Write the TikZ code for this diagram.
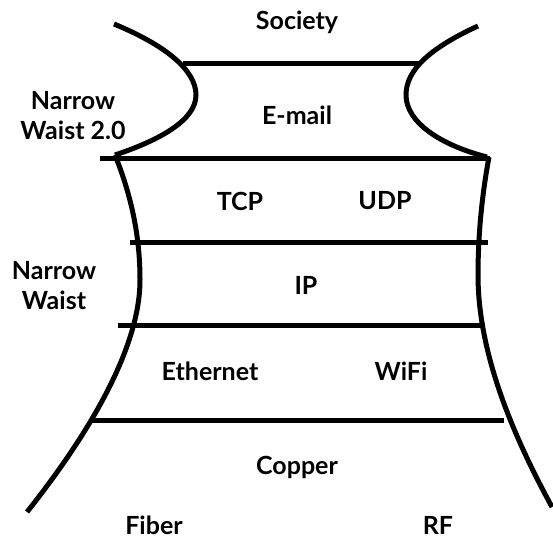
\documentclass[tikz,border=0pt]{standalone}
\usepackage{fontspec}
\setmainfont{Lato}[BoldFont={Lato Bold}]
\begin{document}
\begin{tikzpicture}[x=1pt,y=-1pt,
  lbl/.style={font=\fontsize{25}{30}\selectfont\bfseries, inner sep=0pt, align=center},
  wall/.style={line width=5pt},
  layer/.style={line width=5pt}]
\useasboundingbox (0,0) rectangle (553,540);
% curves
\draw[wall] (114,24) .. controls (165,45) and (196,70) .. (196,95) .. controls (196,120) and (160,140) .. (115,155);
\draw[wall] (478,26) .. controls (430,48) and (406,70) .. (406,95) .. controls (406,122) and (440,145) .. (487,157);
\draw[wall] (115,155) .. controls (133,200) and (140,240) .. (140,280) .. controls (140,340) and (100,420) .. (27,512);
\draw[wall] (489,157) .. controls (481,200) and (478,240) .. (478,275) .. controls (478,350) and (510,430) .. (552,507);
% layer lines
\draw[layer] (183,64) -- (420,64);
\draw[layer] (100,158) -- (490,158);
\draw[layer] (130,242) -- (488,242);
\draw[layer] (118,325) -- (485,325);
\draw[layer] (90,420) -- (504,420);
% labels
\node[lbl] (society) at (297,22) {Society};
\node[lbl] (email) at (297,115) {E-mail};
\node[lbl] (nw2) at (73,116) {Narrow\\Waist 2.0};
\node[lbl] (tcp) at (240,201) {TCP};
\node[lbl] (udp) at (385,201) {UDP};
\node[lbl] (nw) at (54,286) {Narrow\\Waist};
\node[lbl] (ip) at (306,285) {IP};
\node[lbl] (eth) at (210,371) {Ethernet};
\node[lbl] (wifi) at (401,371) {WiFi};
\node[lbl] (copper) at (297,467) {Copper};
\node[lbl] (fiber) at (154,525) {Fiber};
\node[lbl] (rf) at (438,525) {RF};
\end{tikzpicture}
\end{document}
